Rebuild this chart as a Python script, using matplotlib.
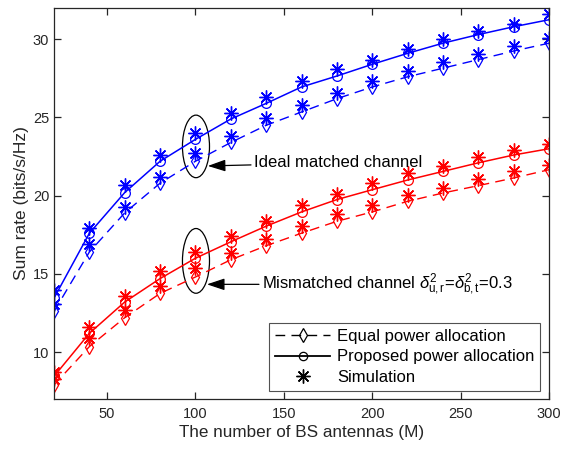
import numpy as np
import matplotlib
matplotlib.use("Agg")
import matplotlib.pyplot as plt
from matplotlib.lines import Line2D
from matplotlib.patches import Ellipse

plt.rcParams['font.family'] = ['Liberation Sans', 'DejaVu Sans']
plt.rcParams['mathtext.fontset'] = 'custom'
plt.rcParams['mathtext.rm'] = 'Liberation Sans'
plt.rcParams['mathtext.it'] = 'Liberation Sans:italic'

# number of BS antennas
M = [20, 40, 60, 80, 100, 120, 140, 160, 180, 200, 220, 240, 260, 280, 300]

# ideal matched channel (blue)
ideal_prop = [13.45, 17.6, 20.2, 22.2, 23.6, 24.9, 25.9, 26.95, 27.65, 28.4, 29.1, 29.75, 30.3, 30.8, 31.25]
ideal_prop_sim = [13.95, 17.95, 20.7, 22.6, 24.0, 25.3, 26.3, 27.3, 28.1, 28.7, 29.35, 30.0, 30.5, 31.0, 31.6]
ideal_eq = [12.6, 16.4, 18.9, 20.8, 22.2, 23.4, 24.5, 25.35, 26.2, 26.95, 27.6, 28.15, 28.7, 29.25, 29.75]
ideal_eq_sim = [13.1, 16.9, 19.3, 21.2, 22.7, 23.8, 24.95, 25.8, 26.55, 27.3, 27.95, 28.55, 29.05, 29.55, 30.05]

# mismatched channel (red)
mis_prop = [8.45, 11.2, 13.2, 14.7, 16.0, 17.05, 18.05, 18.96, 19.75, 20.38, 21.0, 21.55, 22.1, 22.6, 23.0]
mis_prop_sim = [8.7, 11.6, 13.6, 15.2, 16.4, 17.45, 18.4, 19.38, 20.1, 20.8, 21.45, 21.87, 22.5, 22.9, 23.3]
mis_eq = [7.9, 10.35, 12.2, 13.75, 14.8, 15.9, 16.8, 17.6, 18.36, 18.96, 19.64, 20.17, 20.64, 21.13, 21.66]
mis_eq_sim = [8.3, 10.9, 12.7, 14.2, 15.35, 16.35, 17.2, 18.05, 18.8, 19.38, 20.06, 20.5, 21.06, 21.55, 21.97]

legend_labels = ['Equal power allocation', 'Proposed power allocation', 'Simulation']

grey = '#262626'
fig = plt.figure(figsize=(5.61, 4.49), dpi=100)
ax = fig.add_axes([0.0963, 0.1114, 0.8823, 0.8708])

star = (8, 2, 0)
dash = (7, 4.5)
for col, prop, psim, eq, esim in [('#0000ff', ideal_prop, ideal_prop_sim, ideal_eq, ideal_eq_sim),
                                   ('#ff0000', mis_prop, mis_prop_sim, mis_eq, mis_eq_sim)]:
    ax.plot(M, eq, color=col, lw=1.0, dashes=dash, marker='d', ms=7, mfc='none', mec=col, mew=0.9)
    ax.plot(M, prop, color=col, lw=1.1, marker='o', ms=7, mfc='none', mec=col, mew=0.9)
    ax.plot(M, esim, ls='none', marker=star, ms=10, color=col, mew=1.0)
    ax.plot(M, psim, ls='none', marker=star, ms=10, color=col, mew=1.0)

# annotations
ax.add_patch(Ellipse((100.3, 23.15), 15.3, 4.0, fill=False, ec='black', lw=0.9))
ax.add_patch(Ellipse((100.3, 15.83), 15.3, 4.14, fill=False, ec='black', lw=0.9))
arrow = dict(arrowstyle='-|>,head_length=0.9,head_width=0.3', color='black', lw=0.9,
             shrinkA=0, shrinkB=0)
ax.annotate('Ideal matched channel', xy=(107, 21.9), xytext=(133, 22.1),
            fontsize=12, va='center', ha='left', arrowprops=arrow)
ax.annotate(r'Mismatched channel $\delta^2_{\mathrm{u,r}}$=$\delta^2_{\mathrm{b,t}}$=0.3',
            xy=(106.5, 14.33), xytext=(137.5, 14.33),
            fontsize=12, va='center', ha='left', arrowprops=arrow)

ax.set_xlim(20, 300)
ax.set_ylim(7, 32)
ax.set_xticks([50, 100, 150, 200, 250, 300])
ax.set_yticks([10, 15, 20, 25, 30])
ax.tick_params(direction='in', top=True, right=True, labelsize=10.5, length=5, width=0.9,
               color=grey, labelcolor=grey)
ax.tick_params(axis='x', pad=6)
for s in ax.spines.values():
    s.set_linewidth(0.9)
    s.set_color(grey)
ax.set_xlabel('The number of BS antennas (M)', fontsize=12.3, labelpad=3, color=grey)
ax.set_ylabel('Sum rate (bits/s/Hz)', fontsize=12.5, labelpad=3, color=grey)

handles = [Line2D([], [], color='black', lw=1.0, dashes=dash, marker='d', ms=7, mfc='none', mew=0.9),
           Line2D([], [], color='black', lw=1.3, marker='o', ms=6, mfc='none', mew=0.9),
           Line2D([], [], color='black', ls='none', marker=star, ms=10, mew=1.0)]
leg = ax.legend(handles, legend_labels, loc='lower right', bbox_to_anchor=(0.982, 0.02),
                fontsize=12, frameon=True, fancybox=False, edgecolor=grey,
                handlelength=3.3, borderpad=0.35, labelspacing=0.35, handletextpad=0.4, borderaxespad=0)
leg.get_frame().set_linewidth(0.8)

fig.savefig('out.png', dpi=100)
